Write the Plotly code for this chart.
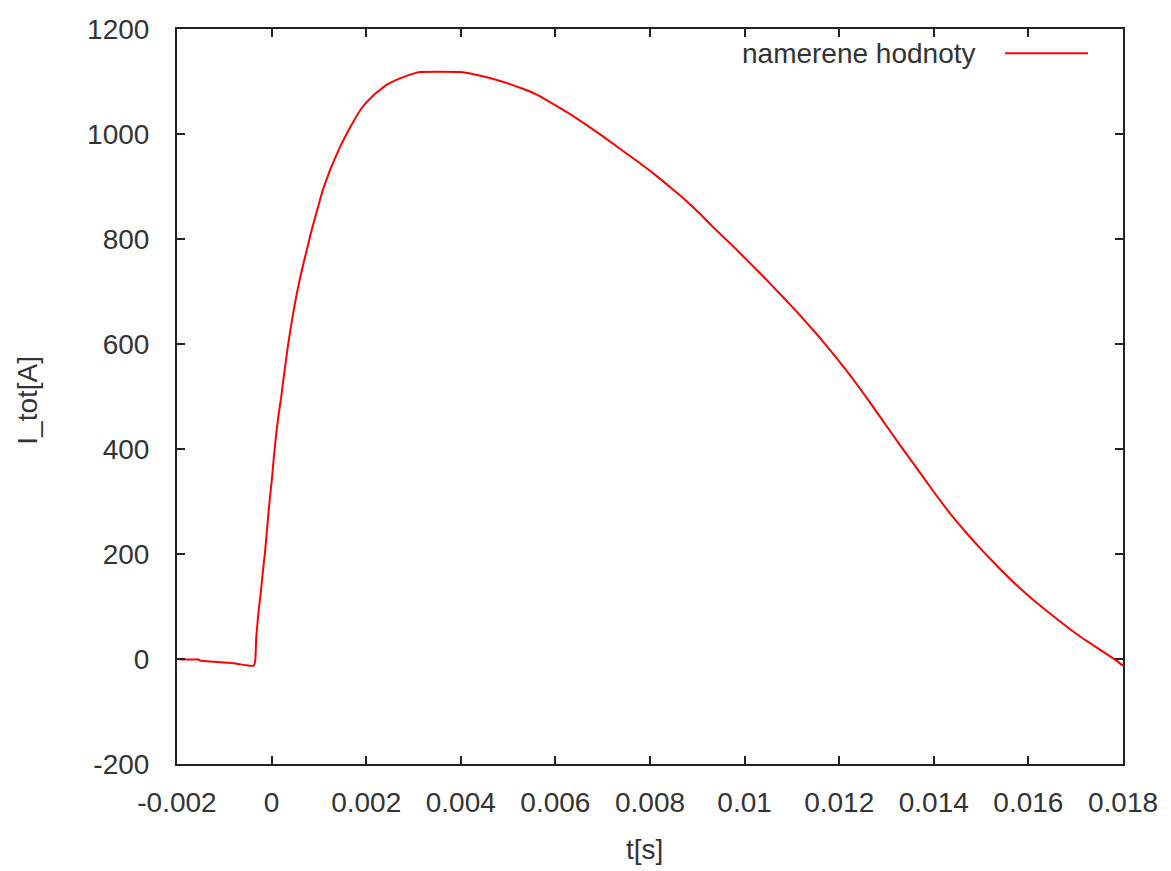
import plotly.graph_objects as go

# measured current I_tot [A] vs time t [s]
t_values = [
    -0.002, -0.001825, -0.001544, -0.001508, -0.001227, -0.000804, -0.000521, -0.000382,
    -0.000346, -0.000325, -0.000276, -0.000225, -0.000183, -0.000135, -0.000099, -0.000044,
    0.000007, 0.000041, 0.000098, 0.000146, 0.000197, 0.000252, 0.000324, 0.000394,
    0.000463, 0.000535, 0.000605, 0.000675, 0.000746, 0.000816, 0.000886, 0.000958,
    0.001028, 0.001097, 0.001169, 0.001239, 0.001309, 0.001381, 0.001450, 0.001592,
    0.001731, 0.001909, 0.002154, 0.002437, 0.002718, 0.002999, 0.003141, 0.003986,
    0.004267, 0.004550, 0.004901, 0.005253, 0.005606, 0.005957, 0.006310, 0.006662,
    0.007013, 0.007364, 0.007717, 0.008070, 0.008422, 0.008775, 0.009056, 0.009409,
    0.009760, 0.010113, 0.010466, 0.010816, 0.011169, 0.011522, 0.011873, 0.012225,
    0.012578, 0.012929, 0.013282, 0.013635, 0.013986, 0.014338, 0.014691, 0.015042,
    0.015395, 0.015748, 0.016099, 0.016451, 0.016804, 0.017155, 0.017508, 0.017861,
    0.018,
]
i_values = [
    0, -1, -1, -3, -5, -8, -12, -13,
    -3, 40, 91, 130, 168, 207, 245, 300,
    343, 378, 430, 464, 495, 534, 583, 625,
    662, 697, 727, 754, 780, 806, 830, 853,
    876, 897, 915, 932, 947, 962, 976, 1001,
    1024, 1050, 1074, 1094, 1106, 1115, 1118, 1118,
    1114, 1108, 1099, 1088, 1075, 1057, 1038, 1017,
    995, 972, 949, 925, 899, 872, 848, 816,
    786, 754, 722, 689, 655, 619, 581, 541,
    498, 453, 408, 364, 320, 278, 240, 205,
    172, 141, 113, 87, 62, 39, 18, -3,
    -13,
]

x_tick_vals = [-0.002, 0, 0.002, 0.004, 0.006, 0.008, 0.01, 0.012, 0.014, 0.016, 0.018]
x_tick_text = ["-0.002", "0", "0.002", "0.004", "0.006", "0.008", "0.01", "0.012", "0.014", "0.016", "0.018"]
y_tick_vals = [-200, 0, 200, 400, 600, 800, 1000, 1200]
y_tick_text = ["-200", "0", "200", "400", "600", "800", "1000", "1200"]

series_name = "namerene hodnoty"
x_title = "t[s]"
y_title = "I_tot[A]"

FONT = "Liberation Sans, Arial, sans-serif"
TXT = "#333333"

fig = go.Figure()
fig.add_trace(go.Scatter(
    x=t_values, y=i_values, mode="lines", name=series_name,
    line=dict(color="#ff0000", width=2, shape="spline", smoothing=0.4), showlegend=False,
))

axis_common = dict(
    showgrid=False, zeroline=False, showline=True, linecolor="#222222", linewidth=2,
    mirror="ticks", ticks="inside", ticklen=8, tickwidth=2, tickcolor="#222222",
    tickfont=dict(family=FONT, size=28, color=TXT),
)
fig.update_xaxes(range=[-0.002, 0.018], tickmode="array", tickvals=x_tick_vals,
                 ticktext=x_tick_text, ticklabelstandoff=12, **axis_common)
fig.update_yaxes(range=[-200, 1200], tickmode="array", tickvals=y_tick_vals,
                 ticktext=y_tick_text, ticklabelstandoff=20, **axis_common)

fig.update_layout(
    width=1171, height=871,
    margin=dict(l=177, r=48, t=29, b=107),
    paper_bgcolor="white", plot_bgcolor="white",
    font=dict(family=FONT, size=28, color=TXT),
    showlegend=False,
)

# axis titles
fig.add_annotation(text=x_title, xref="paper", yref="paper", x=0.4937, y=-0.117,
                   xanchor="center", yanchor="middle", showarrow=False,
                   font=dict(family=FONT, size=28, color=TXT))
fig.add_annotation(text=y_title, xref="paper", yref="paper", x=-0.158, y=0.495,
                   xanchor="center", yanchor="middle", textangle=-90, showarrow=False,
                   font=dict(family=FONT, size=28, color=TXT))

# gnuplot-style key: text then line sample to its right
fig.add_annotation(text=series_name, xref="paper", yref="paper", x=0.8467, y=0.967,
                   xanchor="right", yanchor="middle", showarrow=False,
                   font=dict(family=FONT, size=28, color=TXT))
fig.add_shape(type="line", xref="paper", yref="paper", x0=0.8753, x1=0.963, y0=0.967, y1=0.967,
              line=dict(color="#ff0000", width=2))

fig.write_html("out.html")
